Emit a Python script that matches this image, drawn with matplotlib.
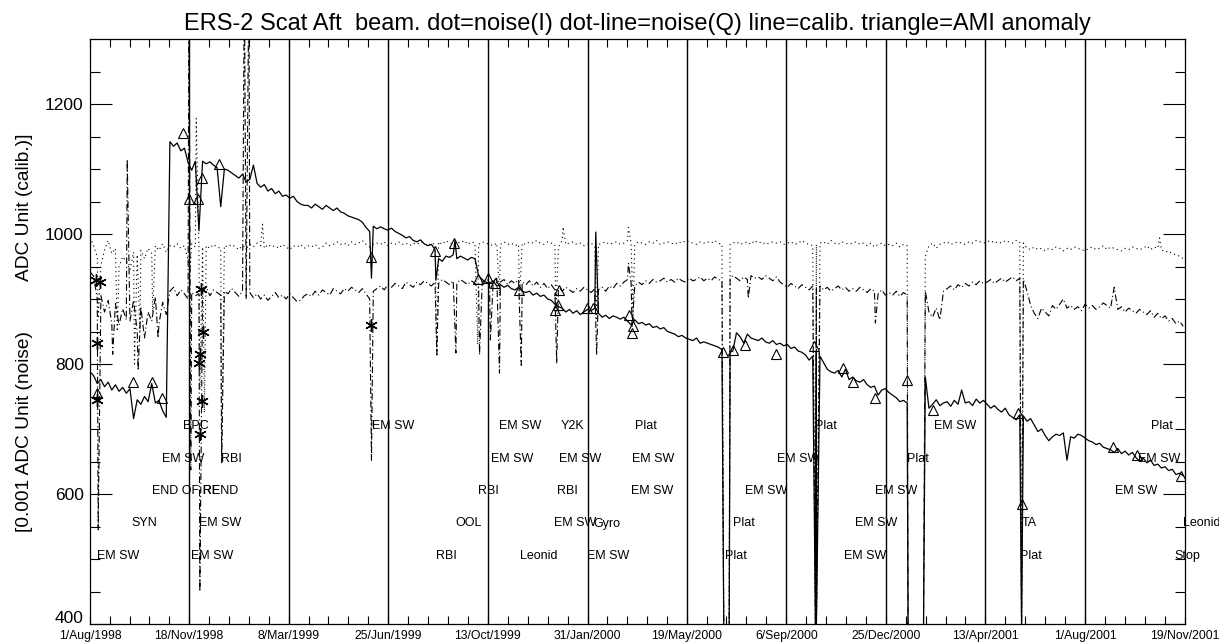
import numpy as np
import pandas as pd
import matplotlib
matplotlib.use('Agg')
import matplotlib.pyplot as plt
import matplotlib.dates as mdates

plt.rcParams['font.family'] = ['Liberation Sans', 'DejaVu Sans']

# samples every 4 days starting 1/Aug/1998
start = '1998-08-01'

calib = [788, 782, 770, 776, 765, 772, 760, 768, 758, 764,
         755, 762, 716, 745, 738, 750, 742, 770, 740, 744,
         728, 718, 1142, 1135, 1140, 1128, 1132, 1110, 1098, 1112,
         1005, 1112, 1108, 1111, 1106, 1102, 1042, 1100, 1098, 1094,
         1090, 1086, 1092, 1080, 1084, 1106, 1078, 1072, 1076, 1066,
         1070, 1062, 1066, 1058, 1060, 1055, 1058, 1050, 1046, 1044,
         1044, 1040, 1046, 1042, 1038, 1044, 1040, 1036, 1040, 1034,
         1032, 1028, 1026, 1024, 1022, 1018, 1010, 1004, 1012, 1008,
         1011, 1008, 1006, 1009, 1004, 1001, 998, 994, 996, 990,
         988, 991, 985, 982, 984, 976, 962, 958, 966, 964,
         968, 962, 966, 963, 960, 964, 962, 936, 930, 926,
         924, 928, 920, 922, 918, 921, 916, 914, 918, 912,
         910, 912, 906, 909, 904, 906, 900, 898, 892, 888,
         886, 880, 884, 878, 882, 876, 880, 884, 882, 886,
         878, 872, 875, 870, 874, 872, 869, 872, 866, 860,
         868, 862, 864, 860, 862, 856, 858, 854, 856, 850,
         848, 846, 842, 844, 840, 838, 836, 840, 832, 834,
         832, 830, 828, 826, 822, 395, 395, 820, 848, 842,
         832, 846, 840, 838, 836, 840, 834, 832, 836, 830,
         832, 828, 830, 824, 826, 820, 818, 814, 806, 812,
         820, 812, 802, 792, 788, 786, 790, 780, 792, 776,
         780, 774, 772, 776, 768, 764, 766, 752, 760, 762,
         756, 752, 748, 742, 744, 740, 395, 395, 395, 395,
         780, 732, 738, 745, 736, 740, 742, 735, 744, 738,
         760, 740, 742, 736, 746, 740, 744, 738, 732, 736,
         730, 726, 732, 722, 718, 714, 722, 720, 712, 716,
         706, 696, 700, 690, 682, 688, 692, 690, 694, 652,
         688, 686, 692, 690, 686, 682, 680, 676, 678, 672,
         670, 668, 664, 670, 662, 666, 660, 664, 656, 650,
         655, 648, 652, 644, 646, 640, 642, 636, 638, 630, 632, 628]

noise_i = [995, 982, 965, 952, 975, 990, 970, 978, 950, 965,
           958, 945, 972, 968, 975, 962, 978, 970, 982, 975,
           985, 972, 982, 980, 985, 978, 982, 960, 985, 980,
           975, 980, 982, 978, 984, 980, 978, 982, 980, 984,
           980, 976, 982, 978, 984, 980, 986, 982, 978, 984,
           980, 982, 978, 984, 980, 976, 982, 980, 984, 978,
           982, 980, 984, 978, 980, 986, 982, 984, 988, 984,
           986, 982, 988, 984, 986, 990, 984, 980, 984, 986,
           984, 988, 982, 986, 984, 988, 984, 986, 982, 986,
           984, 988, 986, 982, 986, 984, 988, 984, 990, 986,
           984, 988, 986, 990, 984, 988, 986, 984, 988, 986,
           984, 982, 986, 984, 988, 984, 986, 982, 984, 986,
           984, 988, 986, 990, 986, 984, 988, 986, 984, 980,
           990, 984, 986, 988, 984, 986, 982, 984, 986, 980,
           984, 986, 988, 984, 986, 988, 984, 986, 990, 986,
           984, 988, 986, 984, 988, 986, 990, 984, 986, 988,
           986, 984, 988, 986, 990, 988, 986, 984, 988, 986,
           988, 986, 990, 986, 984, 395, 395, 986, 988, 984,
           986, 988, 984, 990, 986, 988, 984, 986, 988, 986,
           988, 984, 986, 988, 984, 986, 990, 986, 984, 982,
           984, 986, 988, 984, 990, 986, 984, 988, 986, 984,
           986, 988, 984, 986, 982, 986, 980, 984, 986, 982,
           984, 982, 986, 980, 984, 982, 395, 395, 395, 395,
           965, 982, 986, 978, 984, 986, 988, 984, 986, 988,
           986, 984, 988, 986, 990, 988, 986, 988, 990, 986,
           988, 986, 990, 988, 986, 990, 988, 986, 978, 976,
           980, 976, 978, 974, 978, 976, 980, 978, 974, 978,
           976, 980, 978, 976, 974, 978, 980, 976, 978, 982,
           976, 980, 978, 976, 974, 978, 976, 980, 978, 976,
           978, 982, 976, 980, 978, 976, 972, 974, 970, 968, 966, 962]

noise_q = [942, 935, 900, 905, 880, 898, 862, 893, 860, 885,
           868, 866, 898, 850, 888, 840, 880, 866, 903, 862,
           895, 876, 912, 918, 905, 914, 908, 900, 910, 905,
           908, 912, 918, 905, 914, 910, 906, 912, 908, 916,
           910, 904, 912, 900, 910, 902, 908, 900, 906, 898,
           904, 910, 902, 906, 900, 908, 902, 896, 898, 905,
           908, 904, 912, 906, 914, 910, 906, 916, 912, 908,
           916, 912, 918, 914, 910, 916, 908, 900, 912, 916,
           920, 914, 922, 918, 924, 920, 916, 926, 922, 918,
           926, 922, 928, 924, 920, 926, 924, 930, 926, 922,
           928, 924, 930, 926, 922, 928, 924, 920, 926, 930,
           928, 924, 932, 926, 930, 922, 928, 924, 930, 926,
           922, 928, 920, 926, 918, 924, 916, 922, 914, 920,
           912, 918, 914, 910, 916, 912, 918, 914, 910, 916,
           914, 918, 912, 920, 916, 924, 920, 926, 930, 924,
           920, 926, 922, 928, 924, 930, 926, 928, 932, 926,
           930, 926, 932, 928, 926, 932, 928, 930, 934, 928,
           932, 928, 934, 930, 928, 395, 395, 936, 932, 928,
           934, 930, 936, 932, 934, 930, 936, 932, 928, 934,
           926, 922, 918, 924, 920, 916, 922, 918, 914, 920,
           916, 920, 914, 918, 912, 916, 920, 914, 918, 912,
           916, 912, 918, 914, 910, 916, 912, 908, 914, 906,
           910, 906, 912, 904, 910, 906, 395, 395, 395, 395,
           912, 880, 872, 886, 868, 912, 916, 920, 914, 922,
           918, 924, 920, 926, 922, 928, 924, 926, 930, 924,
           928, 932, 926, 930, 934, 928, 932, 930, 912, 890,
           878, 870, 886, 880, 874, 890, 884, 892, 900, 886,
           890, 884, 888, 882, 892, 886, 890, 884, 888, 894,
           890, 886, 918, 884, 888, 880, 886, 882, 878, 884,
           880, 876, 882, 872, 878, 870, 874, 866, 870, 862, 866, 858]

# single-day spikes / drops
calib_ev_dates = ['1999-06-07', '1999-08-17', '1999-09-07', '2000-02-09',
                  '2000-06-29', '2000-07-06', '2000-10-08', '2000-10-09',
                  '2001-01-18', '2001-02-04', '2001-05-23']
calib_ev_vals = [932, 929, 990, 1003, 395, 818, 395, 395, 395, 395, 395]

noise_i_ev_dates = ['1998-08-10', '1998-08-31', '1998-09-19', '1998-09-25', '1998-10-09',
                    '1998-11-19', '1998-11-26', '1998-11-30', '1998-12-05', '1998-12-24',
                    '1999-02-07', '1999-08-18', '1999-10-02', '1999-10-26', '1999-11-17',
                    '1999-12-27', '2000-01-04', '2000-02-10', '2000-03-16', '2000-03-21',
                    '2000-06-29', '2000-07-06', '2000-10-08', '2000-10-09', '2001-01-18',
                    '2001-02-04', '2001-05-23', '2001-10-22']
noise_i_ev_vals = [870, 850, 800, 850, 880,
                   940, 1178, 760, 725, 665,
                   1015, 815, 830, 905, 900,
                   880, 1011, 870, 1010, 880,
                   395, 984, 395, 395, 395,
                   395, 395, 994]

noise_q_ev_dates = ['1998-08-10', '1998-08-26', '1998-09-11', '1998-09-23', '1998-10-15',
                    '1998-11-18', '1998-11-20', '1998-11-30', '1998-12-24', '1999-01-18',
                    '1999-01-23', '1999-06-07', '1999-08-18', '1999-09-08', '1999-10-04',
                    '1999-10-16', '1999-10-26', '1999-11-19', '1999-12-28', '2000-02-10',
                    '2000-03-16', '2000-03-20', '2000-06-29', '2000-07-06', '2000-07-26',
                    '2000-10-08', '2000-10-09', '2000-12-13', '2001-01-18', '2001-02-04',
                    '2001-05-23']
noise_q_ev_vals = [545, 815, 1115, 790, 840,
                   1400, 637, 450, 648, 1400,
                   1400, 652, 814, 817, 814,
                   837, 786, 798, 801, 814,
                   955, 857, 395, 932, 901,
                   395, 395, 863, 395, 395,
                   395]

tri_dates = ['1998-08-09', '1998-09-17', '1998-10-08', '1998-10-19', '1998-11-11',
             '1998-11-18', '1998-11-28', '1998-12-02', '1998-12-21', '1999-06-07',
             '1999-08-16', '1999-09-06', '1999-10-02', '1999-10-13', '1999-10-21',
             '1999-11-17', '1999-12-26', '1999-12-29', '1999-12-31', '2000-01-30',
             '2000-02-06', '2000-03-17', '2000-03-20', '2000-03-21', '2000-06-28',
             '2000-07-09', '2000-07-22', '2000-08-26', '2000-10-06', '2000-11-07',
             '2000-11-18', '2000-12-13', '2001-01-17', '2001-02-14', '2001-05-19',
             '2001-05-24', '2001-09-01', '2001-09-27', '2001-11-15']
tri_vals = [755, 772, 773, 748, 1156,
            1054, 1054, 1086, 1107, 965,
            974, 986, 931, 932, 925,
            914, 883, 891, 914, 886,
            886, 875, 847, 858, 818,
            821, 829, 815, 827, 794,
            772, 748, 775, 729, 724,
            585, 673, 660, 627]

star_dates = ['1998-08-08', '1998-08-12', '1998-08-09', '1998-08-09', '1998-12-01',
              '1998-12-03', '1998-11-30', '1998-11-29', '1998-12-02', '1998-11-30',
              '1999-06-07']
star_vals = [930, 926, 833, 745, 916, 849, 815, 802, 743, 693, 860]

# event annotations: date, y level, text
ann_dates = ['1998-08-09', '1998-09-16', '1998-10-08', '1998-10-19', '1998-11-11',
             '1998-11-20', '1998-11-29', '1998-12-03', '1998-12-23', '1999-06-08',
             '1999-08-17', '1999-09-07', '1999-10-02', '1999-10-17', '1999-10-25',
             '1999-11-18', '1999-12-25', '1999-12-28', '1999-12-30', '2000-01-01',
             '2000-01-30', '2000-02-06', '2000-03-19', '2000-03-20', '2000-03-23',
             '2000-06-30', '2000-07-09', '2000-07-22', '2000-08-27', '2000-10-07',
             '2000-11-08', '2000-11-20', '2000-12-13', '2001-01-17', '2001-02-16',
             '2001-05-21', '2001-05-23', '2001-09-03', '2001-09-28', '2001-10-13',
             '2001-11-07', '2001-11-17']
ann_rows = [500, 550, 600, 650, 700,
            500, 550, 600, 650, 700,
            500, 550, 600, 650, 700,
            500, 550, 600, 650, 700,
            500, 550, 600, 650, 700,
            500, 550, 600, 650, 700,
            500, 550, 600, 650, 700,
            500, 550, 600, 650, 700,
            500, 550]
ann_text = ['EM SW', 'SYN', 'END OF RE', 'EM SW', 'BPC',
            'EM SW', 'EM SW', 'REND', 'RBI', 'EM SW',
            'RBI', 'OOL', 'RBI', 'EM SW', 'EM SW',
            'Leonid', 'EM SW', 'RBI', 'EM SW', 'Y2K',
            'EM SW', 'Gyro', 'EM SW', 'EM SW', 'Plat',
            'Plat', 'Plat', 'EM SW', 'EM SW', 'Plat',
            'EM SW', 'EM SW', 'EM SW', 'Plat', 'EM SW',
            'Plat', 'TA', 'EM SW', 'EM SW', 'Plat',
            'Stop', 'Leonid']

tick_labels = ['1/Aug/1998', '18/Nov/1998', '8/Mar/1999', '25/Jun/1999', '13/Oct/1999',
               '31/Jan/2000', '19/May/2000', '6/Sep/2000', '25/Dec/2000', '13/Apr/2001',
               '1/Aug/2001', '19/Nov/2001']
y_ticks = [400, 600, 800, 1000, 1200]


def build(base, ev_dates, ev_vals):
    s = pd.Series(base, index=pd.date_range(start, periods=len(base), freq='4D'), dtype=float)
    ev = pd.Series(ev_vals, index=pd.to_datetime(ev_dates), dtype=float)
    return pd.concat([s, ev]).sort_index(kind='mergesort')


s_cal = build(calib, calib_ev_dates, calib_ev_vals)
s_ni = build(noise_i, noise_i_ev_dates, noise_i_ev_vals)
s_nq = build(noise_q, noise_q_ev_dates, noise_q_ev_vals)

fig = plt.figure(figsize=(12.19, 6.44), dpi=100)
ax = fig.add_axes([90 / 1219, 20 / 644, 1095 / 1219, 585 / 644])

ax.plot(s_cal.index, s_cal.values, color='k', lw=0.9)
ax.plot(s_ni.index, s_ni.values, color='k', lw=0.8, ls=(0, (1, 3)))
ax.plot(s_nq.index, s_nq.values, color='k', lw=0.8, ls=(0, (6, 2.5, 1, 2.5)))

tick_pos = pd.to_datetime(tick_labels, format='%d/%b/%Y')
for t in tick_pos[1:-1]:
    ax.axvline(t, color='k', lw=1.0)

ax.plot(pd.to_datetime(tri_dates), tri_vals, ls='none', marker='^', ms=7,
        mfc='none', mec='k', mew=0.8)
ax.plot(pd.to_datetime(star_dates), star_vals, ls='none', marker=(6, 2, 0), ms=9,
        mec='k', mew=1.0)

for d, r, t in zip(ann_dates, ann_rows, ann_text):
    ax.text(pd.Timestamp(d), r, t, fontsize=9, ha='left', va='baseline', clip_on=False)

ax.set_xlim(pd.Timestamp('1998-08-01'), pd.Timestamp('2001-11-19'))
ax.set_ylim(400, 1300)

ax.set_xticks(tick_pos)
ax.set_xticklabels(tick_labels)
nums = mdates.date2num(tick_pos)
minor = np.concatenate([np.linspace(a, b, 6)[1:-1] for a, b in zip(nums[:-1], nums[1:])])
ax.set_xticks(minor, minor=True)
ax.set_yticks(y_ticks)
# lowest label sits a little above its tick, as in the original
ax.set_yticklabels([''] + [str(v) for v in y_ticks[1:]])
ax.annotate(str(y_ticks[0]), xy=(0, y_ticks[0]), xycoords=('axes fraction', 'data'),
            xytext=(-4.5, 4), textcoords='offset points', ha='right', va='center',
            fontsize=12.5)
ax.set_yticks(np.arange(450, 1300, 50), minor=True)

ax.tick_params(axis='x', which='major', direction='in', top=True, length=6, width=0.8,
               labelsize=8.8, pad=4)
ax.tick_params(axis='x', which='minor', direction='in', top=True, length=5.8, width=0.8)
ax.tick_params(axis='y', which='major', direction='in', right=True, length=16, width=0.8,
               labelsize=12.5, pad=4.5)
ax.tick_params(axis='y', which='minor', direction='in', right=True, length=7.5, width=0.8)
for sp in ax.spines.values():
    sp.set_linewidth(0.9)

ax.set_title('ERS-2 Scat Aft  beam. dot=noise(I) dot-line=noise(Q) line=calib. triangle=AMI anomaly',
             fontsize=17, pad=6.5)

fig.text(25 / 1219, 1 - 207 / 644, 'ADC Unit (calib.)]', rotation=90, ha='center', va='center',
         fontsize=13.8)
fig.text(25 / 1219, 1 - 431 / 644, '[0.001 ADC Unit (noise)', rotation=90, ha='center', va='center',
         fontsize=13.8)

fig.savefig('out.png', dpi=100)
